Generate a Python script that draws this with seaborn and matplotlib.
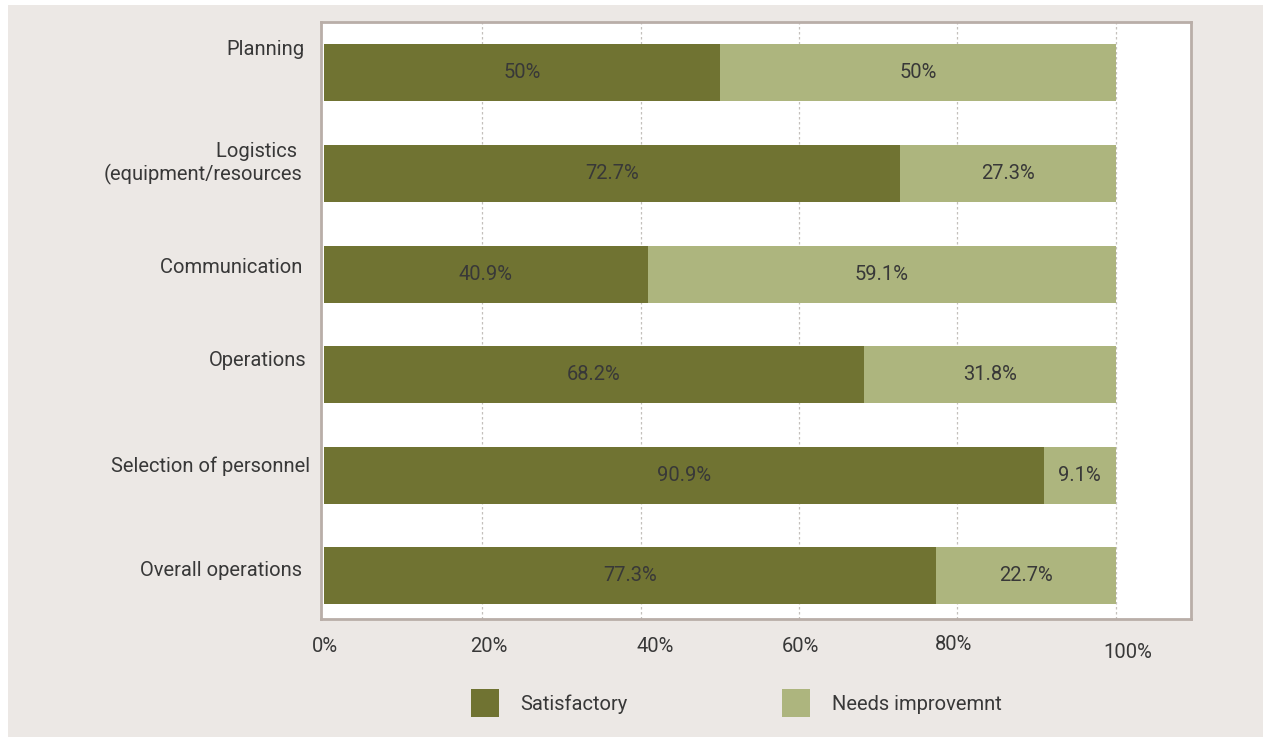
import matplotlib
matplotlib.use("Agg")
import matplotlib.pyplot as plt
import matplotlib.transforms as mtransforms
from matplotlib.patches import Rectangle, Patch
import seaborn as sns
import pandas as pd
import numpy as np

categories = ["Planning", "Logistics \n(equipment/resources", "Communication ", "Operations",
              "Selection of personnel", "Overall operations "]
satisfactory = [50.0, 72.7, 40.9, 68.2, 90.9, 77.3]
needs_improvement = [50.0, 27.3, 59.1, 31.8, 9.1, 22.7]
sat_labels = ["50%", "72.7%", "40.9%", "68.2%", "90.9%", "77.3%"]
need_labels = ["50%", "27.3%", "59.1%", "31.8%", "9.1%", "22.7%"]
xticks = [0, 20, 40, 60, 80, 100]
xtick_labels = ["0%", "20%", "40%", "60%", "80%", "100%"]
series_names = ["Satisfactory", "Needs improvemnt"]

DARK = "#707332"
LIGHT = "#adb57e"
BG = "#ece8e5"
BORDER = "#b9aea8"
TEXT = "#383838"
FS = 14.5
FW = "normal"

sns.set_theme(style="white")
plt.rcParams["font.family"] = ["Roboto", "DejaVu Sans"]
plt.rcParams["font.weight"] = FW

df = pd.DataFrame({"category": categories, "sat": satisfactory, "need": needs_improvement})
df["total"] = df["sat"] + df["need"]

fig = plt.figure(figsize=(12.63, 7.42), dpi=100, facecolor="white")
fig.patches.append(Rectangle((8 / 1263, 5 / 742), 1 - 8 / 1263, (737 - 5) / 742,
                             transform=fig.transFigure, facecolor=BG, edgecolor="none", zorder=-10))
ax = fig.add_axes([321 / 1263, 1 - 619 / 742, (1191 - 321) / 1263, (619 - 22) / 742])
ax.set_facecolor("white")

sns.barplot(data=df, y="category", x="total", color=LIGHT, orient="h", width=0.567,
            saturation=1, ax=ax, zorder=3, order=categories, linewidth=0)
sns.barplot(data=df, y="category", x="sat", color=DARK, orient="h", width=0.567,
            saturation=1, ax=ax, zorder=4, order=categories, linewidth=0)

ax.set_xlim(-0.38, 109.5)
ax.set_ylim(5.43, -0.507)
ax.set_xlabel("")
ax.set_ylabel("")

for x in [20, 40, 60, 80, 100]:
    ax.axvline(x, color="#c4c0bc", linestyle=(0, (2, 2)), linewidth=0.9, zorder=1)

for i in range(len(categories)):
    s = satisfactory[i]
    n = needs_improvement[i]
    ax.text(s / 2, i, sat_labels[i], ha="center", va="center", fontsize=FS, fontweight=FW,
            color=TEXT, zorder=5)
    ax.text(s + n / 2, i, need_labels[i], ha="center", va="center", fontsize=FS, fontweight=FW,
            color=TEXT, zorder=5)

for sp in ax.spines.values():
    sp.set_color(BORDER)
    sp.set_linewidth(2)

ax.set_xticks(xticks)
ax.set_xticklabels(xtick_labels, fontsize=FS, fontweight=FW, color=TEXT)
ax.tick_params(axis="x", length=0, pad=13)
ax.tick_params(axis="y", length=0, pad=8)
for lab in ax.get_yticklabels():
    lab.set_fontsize(FS)
    lab.set_fontweight(FW)
    lab.set_color(TEXT)

# small label offsets as in the reference (pixels)
xt_off = [(1, 0), (6, 0), (14, 0), (1, 0), (-4, 2), (12, -6)]
for lab, (dx, dy) in zip(ax.get_xticklabels(), xt_off):
    lab.set_transform(lab.get_transform() + mtransforms.ScaledTranslation(dx / 100, dy / 100, fig.dpi_scale_trans))
yt_off = [(-5, 25), (-8, 14), (-3, 9), (-3, 16), (0, 11), (-3, 7)]
for lab, (dx, dy) in zip(ax.get_yticklabels(), yt_off):
    lab.set_transform(lab.get_transform() + mtransforms.ScaledTranslation(dx / 100, dy / 100, fig.dpi_scale_trans))

handles = [Patch(facecolor=DARK, edgecolor="none"), Patch(facecolor=LIGHT, edgecolor="none")]
fig.legend(handles, series_names, loc="center", bbox_to_anchor=(736 / 1263, 1 - 703 / 742),
           ncol=2, frameon=False, prop={"size": FS, "weight": FW}, handlelength=1.4, handleheight=1.75,
           handletextpad=1.05, columnspacing=7.7, labelcolor=TEXT)

fig.savefig("out.png", dpi=100, facecolor=fig.get_facecolor())
